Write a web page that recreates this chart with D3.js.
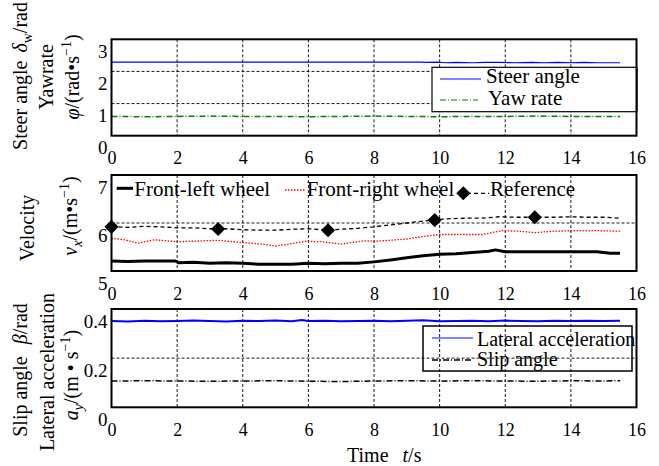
<!DOCTYPE html>
<html>
<head>
<meta charset="utf-8">
<script src="https://cdn.jsdelivr.net/npm/d3@7"></script>
<style>
  body { margin: 0; background: #fff; }
  svg { display: block; }
  svg text { font-family: "Liberation Serif", "Times New Roman", Times, "DejaVu Serif", serif; }
</style>
</head>
<body>
<div id="chart"></div>
<script>
"use strict";

// x axis (time, s)
const timeTicks = [0, 2, 4, 6, 8, 10, 12, 14, 16];

// panel 1: steer angle / yaw rate
const steerT = [0, 9.4, 9.6, 9.9, 10.2, 10.5, 11.0, 11.4, 11.8, 12.3, 12.8, 13.2, 13.6, 14.0, 14.4, 14.8, 15.2, 15.5];
const steerV = [2.29, 2.29, 2.28, 2.29, 2.27, 2.28, 2.27, 2.28, 2.28, 2.27, 2.28, 2.27, 2.28, 2.27, 2.28, 2.27, 2.27, 2.27];
const yawT = [0, 1, 2, 3, 4, 5, 6, 7, 8, 9, 10, 11, 12, 13, 14, 15, 15.5];
const yawV = [0.60, 0.59, 0.60, 0.61, 0.60, 0.60, 0.59, 0.60, 0.61, 0.60, 0.59, 0.60, 0.60, 0.61, 0.60, 0.60, 0.60];
const p1Ticks = [0, 1, 2, 3];

// panel 2: wheel velocities
const leftT = [0, 0.5, 1.0, 1.95, 2.05, 2.5, 3.0, 3.5, 4.0, 4.5, 5.0, 5.5, 6.0, 6.5, 7.0, 7.5, 8.0, 8.5, 9.05, 9.5, 10.0, 10.5, 11.1, 11.5, 11.7, 12.0, 13.0, 14.1, 14.8, 15.2, 15.5];
const leftV = [5.21, 5.20, 5.21, 5.21, 5.17, 5.18, 5.16, 5.17, 5.16, 5.14, 5.14, 5.14, 5.16, 5.15, 5.16, 5.16, 5.19, 5.23, 5.28, 5.32, 5.35, 5.36, 5.39, 5.41, 5.44, 5.40, 5.40, 5.40, 5.40, 5.37, 5.37];
const rightT = [0, 0.4, 0.8, 1.3, 1.7, 2.0, 2.5, 3.2, 3.7, 4.2, 4.6, 5.0, 5.5, 5.9, 6.4, 7.0, 7.7, 8.0, 8.5, 9.05, 9.5, 10.0, 10.5, 11.3, 11.9, 12.4, 12.9, 13.5, 14.2, 14.8, 15.5];
const rightV = [5.68, 5.65, 5.58, 5.65, 5.63, 5.61, 5.62, 5.64, 5.61, 5.58, 5.56, 5.52, 5.57, 5.62, 5.61, 5.56, 5.63, 5.62, 5.64, 5.67, 5.72, 5.76, 5.76, 5.76, 5.84, 5.83, 5.80, 5.83, 5.84, 5.84, 5.83];
const refT = [0, 0.5, 1.0, 1.5, 2.0, 2.5, 3.0, 3.5, 4.0, 4.5, 5.0, 5.5, 6.0, 6.6, 7.0, 7.5, 8.0, 8.5, 9.0, 9.5, 9.85, 10.3, 10.8, 11.3, 11.8, 12.3, 12.9, 13.5, 14.0, 14.5, 15.0, 15.5];
const refV = [5.92, 5.91, 5.93, 5.92, 5.90, 5.90, 5.88, 5.88, 5.86, 5.85, 5.85, 5.87, 5.88, 5.85, 5.87, 5.89, 5.92, 5.96, 6.00, 6.04, 6.07, 6.09, 6.10, 6.10, 6.13, 6.12, 6.12, 6.12, 6.13, 6.12, 6.12, 6.10];
const markT = [0, 3.25, 6.6, 9.85, 12.9];
const markV = [5.92, 5.875, 5.85, 6.06, 6.12];
const p2Ticks = [5, 6, 7];

// panel 3: lateral acceleration / slip angle
const latT = [0, 0.5, 1, 1.5, 2, 2.5, 3, 3.5, 4, 4.5, 5, 5.5, 5.8, 6, 6.5, 7, 7.5, 8, 8.5, 9, 9.5, 10, 10.5, 11, 11.5, 12, 12.5, 13, 13.5, 14, 14.5, 15, 15.5];
const latV = [0.351, 0.349, 0.352, 0.350, 0.351, 0.353, 0.351, 0.349, 0.352, 0.351, 0.353, 0.350, 0.355, 0.351, 0.352, 0.350, 0.351, 0.352, 0.350, 0.352, 0.354, 0.350, 0.351, 0.352, 0.350, 0.353, 0.351, 0.350, 0.352, 0.351, 0.352, 0.351, 0.352];
const slipT = [0, 1, 2, 3, 4, 5, 6, 7, 8, 9, 10, 11, 12, 13, 14, 15, 15.5];
const slipV = [0.107, 0.108, 0.107, 0.106, 0.107, 0.108, 0.106, 0.105, 0.107, 0.108, 0.107, 0.108, 0.107, 0.106, 0.108, 0.107, 0.108];
const p3Ticks = [0, 0.2, 0.4];

const width = 659, height = 466;
const serif = "Liberation Serif";
const svg = d3.select("#chart").append("svg")
    .attr("width", width)
    .attr("height", height)
    .attr("font-family", serif)
    .attr("viewBox", [0, 0, width, height]);

const x = d3.scaleLinear().domain([0, 16]).range([111.5, 636.5]);
const fmt = d3.format("~g");

const zip = (ts, vs) => ts.map((t, i) => ({ t: t, v: vs[i] }));

function DrawPanel(top, bottom, yTicks) {
    const y = d3.scaleLinear().domain(d3.extent(yTicks)).range([bottom, top]);
    const g = svg.append("g");

    // dashed grid, interior ticks only
    g.append("g")
        .selectAll("line")
        .data(timeTicks.slice(1, -1))
        .join("line")
        .attr("x1", d => x(d)).attr("x2", d => x(d))
        .attr("y1", top).attr("y2", bottom);
    g.append("g")
        .selectAll("line")
        .data(yTicks.slice(1, -1))
        .join("line")
        .attr("x1", x.range()[0]).attr("x2", x.range()[1])
        .attr("y1", d => y(d)).attr("y2", d => y(d));
    g.selectAll("line")
        .attr("stroke", "#000")
        .attr("stroke-width", 0.9)
        .attr("stroke-dasharray", "3,2");

    // tick labels sit a little below their ticks, as in the original
    svg.append("g")
        .attr("transform", `translate(0,${bottom})`)
        .call(d3.axisBottom(x).tickValues(timeTicks).tickFormat(fmt).tickSize(0).tickPadding(16))
        .attr("font-family", serif)
        .attr("font-size", 18)
        .call(a => a.select(".domain").remove())
        .call(a => a.selectAll("text").attr("fill", "#000"));

    svg.append("g")
        .attr("transform", `translate(${x.range()[0] - 4},0)`)
        .call(d3.axisLeft(y).tickValues(yTicks).tickFormat(fmt).tickSize(0).tickPadding(0))
        .attr("font-family", serif)
        .attr("font-size", 19)
        .call(a => a.select(".domain").remove())
        .call(a => a.selectAll("text").attr("dy", "0.95em").attr("fill", "#000"));

    return { g: g, y: y, top: top, bottom: bottom };
}

function DrawBorder(p) {
    svg.append("rect")
        .attr("x", x.range()[0]).attr("y", p.top)
        .attr("width", x.range()[1] - x.range()[0])
        .attr("height", p.bottom - p.top)
        .attr("fill", "none")
        .attr("stroke", "#000")
        .attr("stroke-width", 2);
}

function DrawLine(p, data, color, w, dash) {
    const line = d3.line().x(d => x(d.t)).y(d => p.y(d.v));
    p.g.append("path")
        .datum(data)
        .attr("fill", "none")
        .attr("stroke", color)
        .attr("stroke-width", w)
        .attr("stroke-dasharray", dash)
        .attr("stroke-linejoin", "round")
        .attr("d", line);
}

function Sample(x1, x2, yy, color, w, dash) {
    svg.append("line")
        .attr("x1", x1).attr("x2", x2).attr("y1", yy).attr("y2", yy)
        .attr("stroke", color).attr("stroke-width", w)
        .attr("stroke-dasharray", dash);
}

function Label(xx, yy, str, size) {
    svg.append("text")
        .attr("x", xx).attr("y", yy)
        .attr("font-size", size)
        .text(str);
}

// vertical axis title made of parts: {s, i: italic, sub, sup, dx}
function VTitle(xx, yc, parts) {
    const t = svg.append("text")
        .attr("transform", `translate(${xx},${yc}) rotate(-90)`)
        .attr("text-anchor", "middle")
        .attr("font-size", 20);
    let shift = 0;
    parts.forEach(p => {
        const sp = t.append("tspan").text(p.s);
        let target = 0;
        if (p.sub) { target = 5; sp.attr("font-size", 14); }
        if (p.sup) { target = -8; sp.attr("font-size", 14); }
        if (target !== shift) { sp.attr("dy", target - shift); shift = target; }
        if (p.i) sp.attr("font-style", "italic");
        if (p.dx) sp.attr("dx", p.dx);
    });
}

// ---- panel 1
const p1 = DrawPanel(39.3, 135.7, p1Ticks);
DrawLine(p1, zip(steerT, steerV), "#0000ff", 1.2, null);
DrawLine(p1, zip(yawT, yawV), "#008000", 1.5, "6,2,1,2");
svg.append("rect")
    .attr("x", 432).attr("y", 67.3).attr("width", 205).attr("height", 44.4)
    .attr("fill", "#fff").attr("stroke", "#000").attr("stroke-width", 1.2);
Sample(440, 481, 79, "#5b5bff", 1.5, null);
Label(486, 83, "Steer angle", 21);
Sample(440, 478, 100, "#008000", 1.2, "6,2,1,2");
Label(488, 105, "Yaw rate", 21);
DrawBorder(p1);

// ---- panel 2
const p2 = DrawPanel(175, 271, p2Ticks);
DrawLine(p2, zip(refT, refV), "#000", 1.3, "4,3");
DrawLine(p2, zip(rightT, rightV), "#ff0000", 1.3, "1.5,1.5");
DrawLine(p2, zip(leftT, leftV), "#000", 3, null);
p2.g.append("g")
    .selectAll("path")
    .data(zip(markT, markV))
    .join("path")
    .attr("d", d3.symbol(d3.symbolSquare, 100))
    .attr("transform", d => `translate(${x(d.t)},${p2.y(d.v)}) rotate(45)`)
    .attr("fill", "#000");
Sample(116.7, 133, 188.3, "#000", 3, null);
Label(134.3, 196, "Front-left wheel", 21);
Sample(285, 305, 190, "#ff0000", 1.3, "1.5,1.5");
Label(306.7, 196, "Front-right wheel", 21);
svg.append("path")
    .attr("d", d3.symbol(d3.symbolSquare, 100))
    .attr("transform", "translate(463.3,193.3) rotate(45)")
    .attr("fill", "#000");
Sample(467, 489, 193.3, "#000", 1.3, "4,3");
Label(490, 196, "Reference", 21);
DrawBorder(p2);

// ---- panel 3
const p3 = DrawPanel(309, 407.3, p3Ticks);
DrawLine(p3, zip(latT, latV), "#0000ff", 2, null);
DrawLine(p3, zip(slipT, slipV), "#000", 1.5, "6,2,1,2");
svg.append("rect")
    .attr("x", 423).attr("y", 326).attr("width", 209).attr("height", 45)
    .attr("fill", "none").attr("stroke", "#000").attr("stroke-width", 1.5);
Sample(432, 473, 338, "#5b5bff", 1.5, null);
Label(477, 346, "Lateral acceleration", 20);
Sample(432, 473, 360, "#000", 1.5, "6,2,1,2");
Label(477, 366, "Slip angle", 20);
DrawBorder(p3);

// ---- axis titles
VTitle(27, 76, [{ s: "Steer angle" }, { s: "\u03B4", i: true, dx: 8 }, { s: "w", sub: true }, { s: "/rad" }]);
VTitle(53, 77, [{ s: "Yawrate" }]);
VTitle(79, 77, [{ s: "\u03C6", i: true }, { s: "/(rad\u2022s" }, { s: "\u22121", sup: true }, { s: ")" }]);

VTitle(34, 228, [{ s: "Velocity" }]);
VTitle(77, 216, [{ s: "v", i: true }, { s: "x", i: true, sub: true }, { s: "/(m\u2022s" }, { s: "\u22121", sup: true }, { s: ")" }]);

VTitle(27, 370, [{ s: "Slip angle" }, { s: "\u03B2", i: true, dx: 12 }, { s: "/rad" }]);
VTitle(54, 372, [{ s: "Lateral acceleration" }]);
VTitle(78, 375, [{ s: "a", i: true }, { s: "y", i: true, sub: true }, { s: "/(m \u2022 s" }, { s: "\u22121", sup: true }, { s: ")" }]);

const tl = svg.append("text").attr("x", 347).attr("y", 462).attr("font-size", 20);
tl.append("tspan").text("Time");
tl.append("tspan").attr("dx", 14).attr("font-style", "italic").text("t");
tl.append("tspan").text("/s");
</script>
</body>
</html>
